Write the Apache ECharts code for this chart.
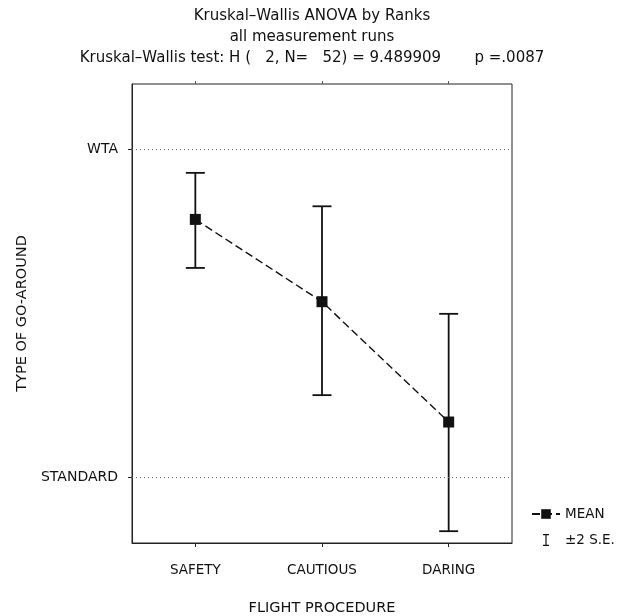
<!DOCTYPE html>
<html>
<head>
<meta charset="utf-8">
<script src="https://cdn.jsdelivr.net/npm/echarts@6/dist/echarts.min.js"></script>
<style>
  html, body { margin: 0; padding: 0; background: #fff; }
  #chart { width: 617px; height: 616px; }
</style>
</head>
<body>
<div id="chart"></div>
<script>
// Flight procedure groups
const categories = ['SAFETY', 'CAUTIOUS', 'DARING'];
// Mean rank-coded go-around type (0 = STANDARD, 1 = WTA)
const means = [0.787, 0.536, 0.169];
// Mean ± 2 standard errors
const upper = [0.929, 0.827, 0.499];
const lower = [0.639, 0.251, -0.164];
// Y tick positions and their labels
const yTickValues = [0, 1];
const yTickLabels = { 0: 'STANDARD', 1: 'WTA' };

const titleLines = [
  'Kruskal\u2013Wallis ANOVA by Ranks',
  'all measurement runs',
  'Kruskal\u2013Wallis test: H (   2, N=   52) = 9.489909       p =.0087'
];

const FONT = 'DejaVu Sans';
const chart = echarts.init(document.getElementById('chart'), null, { renderer: 'canvas' });

const errData = categories.map((c, i) => [i, lower[i], upper[i]]);

chart.setOption({
  backgroundColor: '#ffffff',
  animation: false,
  textStyle: { fontFamily: FONT, color: '#111' },
  title: {
    text: titleLines.join('\n'),
    left: 307,
    top: 1,
    textAlign: 'center',
    textStyle: { fontFamily: FONT, fontSize: 15, fontWeight: 'normal', color: '#111', lineHeight: 21 }
  },
  grid: {
    left: 132, right: 105, top: 84, bottom: 73,
    outerBoundsMode: 'none',
    containLabel: false,
    show: true, borderColor: '#222', borderWidth: 1, backgroundColor: 'transparent'
  },
  legend: {
    orient: 'vertical',
    left: 526,
    top: 502,
    itemWidth: 28,
    itemHeight: 12,
    itemGap: 12,
    textStyle: { fontFamily: FONT, fontSize: 13.5, color: '#111' },
    data: [
      { name: 'MEAN' },
      { name: '\u00b12 S.E.', icon: 'path://M0,0H10V2H6V18H10V20H0V18H4V2H0Z', itemStyle: { color: '#111' } }
    ]
  },
  xAxis: [
    {
      type: 'category',
      data: categories,
      boundaryGap: true,
      name: 'FLIGHT PROCEDURE',
      nameLocation: 'middle',
      nameGap: 58,
      nameTextStyle: { fontFamily: FONT, fontSize: 14.5, color: '#111' },
      axisLine: { show: true, onZero: false, lineStyle: { color: '#222', width: 1 } },
      axisTick: { show: true, alignWithLabel: true, length: 4, lineStyle: { color: '#222' } },
      axisLabel: { margin: 20, fontFamily: FONT, fontSize: 13.5, color: '#111' },
      splitLine: { show: false }
    },
    {
      type: 'category',
      data: categories,
      position: 'top',
      boundaryGap: true,
      axisLine: { show: false, onZero: false },
      axisTick: { show: true, alignWithLabel: true, length: 3, lineStyle: { color: '#555' } },
      axisLabel: { show: false },
      splitLine: { show: false }
    }
  ],
  yAxis: {
    type: 'value',
    min: -0.2,
    max: 1.2,
    name: 'TYPE OF GO-AROUND',
    nameLocation: 'middle',
    nameGap: 95,
    nameTextStyle: { fontFamily: FONT, fontSize: 14.5, color: '#111' },
    axisLine: { show: true, lineStyle: { color: '#222', width: 1 } },
    axisTick: { show: true, length: 4, customValues: yTickValues, lineStyle: { color: '#222' } },
    axisLabel: {
      show: true, margin: 14, fontFamily: FONT, fontSize: 14, color: '#111',
      customValues: yTickValues,
      formatter: v => yTickLabels[v] || ''
    },
    splitLine: { show: false }
  },
  series: [
    {
      name: 'gridlines',
      type: 'line',
      data: [],
      silent: true,
      markLine: {
        silent: true,
        symbol: 'none',
        label: { show: false },
        lineStyle: { type: [1, 3], color: '#666', width: 1 },
        data: yTickValues.map(v => ({ yAxis: v }))
      }
    },
    {
      name: '\u00b12 S.E.',
      type: 'custom',
      z: 3,
      data: errData,
      renderItem: function (params, api) {
        const x = api.value(0);
        const lo = api.coord([x, api.value(1)]);
        const hi = api.coord([x, api.value(2)]);
        const hw = 9.5;
        const style = { stroke: '#111', lineWidth: 1.8, fill: null };
        return {
          type: 'group',
          children: [
            { type: 'line', shape: { x1: lo[0], y1: lo[1], x2: hi[0], y2: hi[1] }, style },
            { type: 'line', shape: { x1: hi[0] - hw, y1: hi[1], x2: hi[0] + hw, y2: hi[1] }, style },
            { type: 'line', shape: { x1: lo[0] - hw, y1: lo[1], x2: lo[0] + hw, y2: lo[1] }, style }
          ]
        };
      },
      itemStyle: { color: '#111' }
    },
    {
      name: 'MEAN',
      type: 'line',
      z: 4,
      data: means,
      symbol: 'rect',
      symbolSize: 11,
      lineStyle: { color: '#111', width: 1.4, type: [8, 4] },
      itemStyle: { color: '#111', borderWidth: 0 }
    }
  ]
});
</script>
</body>
</html>
